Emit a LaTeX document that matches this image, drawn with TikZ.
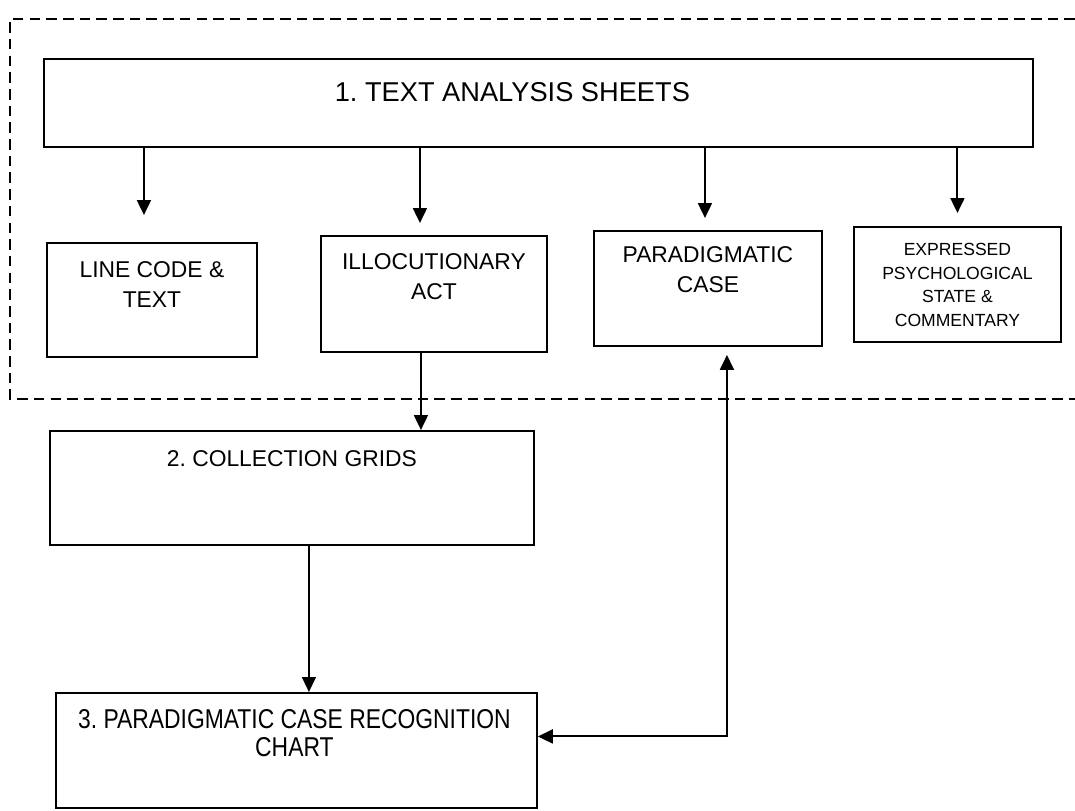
\documentclass[tikz,border=0pt]{standalone}
\usepackage{fontspec}
\setmainfont{Liberation Sans}
\newfontfamily\narrowfont[FakeStretch=0.84]{Liberation Sans}
\usetikzlibrary{arrows.meta,calc}

\begin{document}
\begin{tikzpicture}[
  x=0.02cm, y=-0.02cm,
  >={Triangle[length=3mm, width=2.8mm]},
  font=\fontsize{13}{17}\selectfont,
  box/.style={draw, line width=1.1pt, anchor=north west, inner sep=0pt},
  txt/.style={anchor=north, align=center, inner sep=0pt},
  arr/.style={->, line width=1.1pt},
  thinarr/.style={->, line width=0.8pt},
  frame/.style={line width=1.1pt, dash pattern=on 6pt off 3.5pt},
]
\useasboundingbox (0,0) rectangle (1075,811);

% ============================================================ SHEETS
\node[box, minimum width=19.78cm, minimum height=1.76cm] (sheets) at (43,58) {};
\node[txt, font=\fontsize{15.5}{18}\selectfont] (sheetslbl) at ($(sheets.north)+(-26,24)$) {1.\ TEXT ANALYSIS SHEETS};

\node[box, minimum width=4.2cm, minimum height=2.28cm] (linecode) at (46,242) {};
\node[txt] (linecodelbl) at ($(linecode.north)+(0,19)$) {LINE CODE \&\\TEXT};

\node[box, minimum width=4.52cm, minimum height=2.32cm] (illoc) at (320,235) {};
\node[txt] (illoclbl) at ($(illoc.north)+(0,18)$) {ILLOCUTIONARY\\ACT};

\node[box, minimum width=4.56cm, minimum height=2.3cm] (parad) at (593,230) {};
\node[txt] (paradlbl) at ($(parad.north)+(0,16)$) {PARADIGMATIC\\CASE};

\node[box, minimum width=4.14cm, minimum height=2.3cm] (expr) at (853,226) {};
\node[txt, font=\fontsize{10}{13.4}\selectfont] (exprlbl) at ($(expr.north)+(0,17)$)
  {EXPRESSED\\PSYCHOLOGICAL\\STATE \&\\COMMENTARY};

\draw[arr, shorten >=0.54cm] ($(sheets.south -| linecode.north)+(-8,0)$) -- ($(linecode.north)+(-8,0)$);
\draw[arr, shorten >=0.24cm] ($(sheets.south -| illoc.north)+(-14,0)$) -- ($(illoc.north)+(-14,0)$);
\draw[arr, shorten >=0.24cm] ($(sheets.south -| parad.north)+(-3,0)$) -- ($(parad.north)+(-3,0)$);
\draw[arr, shorten >=0.26cm] (sheets.south -| expr.north) -- (expr.north);

% dashed frame, open to the right
\draw[frame] (1075,19) -- (10,19) -- (10,399) -- (1075,399);

% ============================================================ GRIDS & CHART
\node[box, minimum width=9.68cm, minimum height=2.28cm] (coll) at (49,430) {};
\node[txt] (colllbl) at ($(coll.north)+(0,20)$) {2.\ COLLECTION GRIDS};

\node[box, minimum width=9.62cm, minimum height=2.3cm] (chart) at (55,692) {};
\node[txt, font=\narrowfont\fontsize{15.5}{16}\selectfont] (chartlbl) at ($(chart.north)+(-2,17)$)
  {3.\ PARADIGMATIC CASE RECOGNITION\\CHART};

\draw[arr] ($(illoc.south)+(-13,0)$) coordinate (ic) -- (ic |- coll.north);
\draw[thinarr] ($(coll.south)+(17,0)$) coordinate (cc) -- (cc |- chart.north);

% chart <-> paradigmatic case
\draw[<->, line width=1.1pt, shorten >=0.16cm] ($(chart.east)+(0,-14)$) -| ($(parad.south)+(19,0)$);

\end{tikzpicture}
\end{document}
